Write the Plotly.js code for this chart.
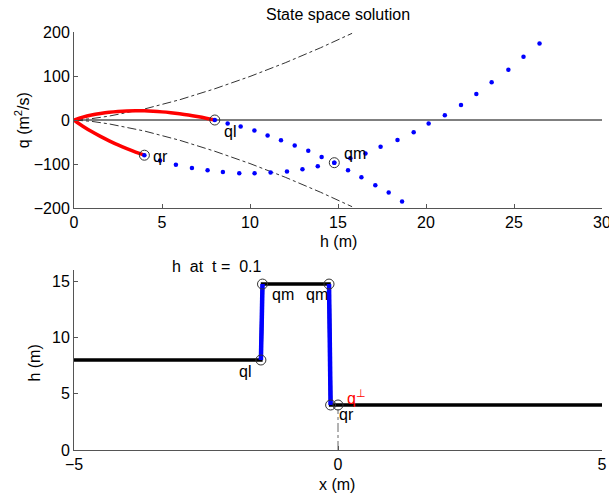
<!DOCTYPE html>
<html>
<head>
<meta charset="utf-8">
<script src="https://cdn.plot.ly/plotly-3.0.1.min.js"></script>
<style>html,body{margin:0;padding:0;background:#fff;}#chart{width:609px;height:498px;}</style>
</head>
<body>
<div id="chart"></div>
<script>
// ---- State space (top) ----
const hIntegralL = [0,0.5,1,1.5,2,2.5,3,3.5,4,4.5,5,5.5,6,6.5,7,7.5,8];
const qIntegralL = [0,6.6,11.5,15,17.7,19.5,20.6,21,20.8,19.9,18.5,16.6,14.2,11.4,8,4.2,0];
const hIntegralR = [0,0.25,0.5,1,1.5,2,2.5,3,3.5,4];
const qIntegralR = [0,-7.4,-14,-26.3,-37.3,-47.3,-56.6,-65,-72.8,-80];
const hSonic = [0,1,2,4,6,8,10,12,14,15.8];
const qSonicPos = [0,3.1,8.9,25,46,71,99,130,164,197];
const qSonicNeg = [0,-3.1,-8.9,-25,-46,-71,-99,-130,-164,-197];
const hHugL = [8,8.73,9.47,10.25,11.0,11.76,12.54,13.31,14.07,14.79,15.57,16.33,17.12,17.88,18.64];
const qHugL = [0,-8,-15,-24,-35,-46,-58,-70,-84,-97,-114,-130,-148,-165,-185];
const hHugR = [4,4.89,5.79,6.70,7.59,8.46,9.39,10.26,11.17,12.1,12.98,13.85,14.79,15.7,16.56,17.42,18.38,19.3,20.15,21.07,21.99,22.86,23.73,24.68,25.54,26.45];
const qHugR = [-80,-92,-101.5,-109,-114,-118,-121,-121,-119,-117,-112,-105,-97,-87,-76,-61,-45.5,-28,-8,11,34,59,86,114,144,174];
const hZeroLine = [0,30];
const qZeroLine = [0,0];
const stateNames = ['ql','qr','qm'];
const stateH = [8,4,14.79];
const stateQ = [0,-80,-97];
const stateLabelH = [8.88,4.9,15.95];
const stateLabelQ = [-25.7,-81.8,-77];

// ---- h at t = 0.1 (bottom) ----
const xProfile = [-5,-1.46,-1.43,-0.17,-0.14,5];
const hProfile = [8,8,14.75,14.75,4,4];
const xShock1 = [-1.46,-1.43];
const hShock1 = [8,14.75];
const xShock2 = [-0.17,-0.14];
const hShock2 = [14.75,4];
const xCircles = [-1.46,-1.43,-0.17,-0.14,0];
const hCircles = [8,14.75,14.75,4,4];
const xDashV = [0,0];
const hDashV = [0,3.6];
const profileLabels = ['ql','qm','qm','qr'];
const profileLabelX = [-1.76,-1.045,-0.394,0.157];
const profileLabelH = [6.96,13.8,13.8,3.14];

const FONT = 'Liberation Sans, Arial, sans-serif';
const AX = '#555555';

const traces = [
  {x:hZeroLine,y:qZeroLine,mode:'lines',line:{color:'#000',width:1},xaxis:'x',yaxis:'y',hoverinfo:'skip'},
  {x:hSonic,y:qSonicPos,mode:'lines',line:{color:'#333',width:1,dash:'dashdot'},xaxis:'x',yaxis:'y'},
  {x:hSonic,y:qSonicNeg,mode:'lines',line:{color:'#333',width:1,dash:'dashdot'},xaxis:'x',yaxis:'y'},
  {x:hIntegralL,y:qIntegralL,mode:'lines',line:{color:'#ff0000',width:3.5,shape:'spline'},xaxis:'x',yaxis:'y'},
  {x:hIntegralR,y:qIntegralR,mode:'lines',line:{color:'#ff0000',width:3.5,shape:'spline'},xaxis:'x',yaxis:'y'},
  {x:hHugL,y:qHugL,mode:'markers',marker:{color:'#0000ff',size:4.5},xaxis:'x',yaxis:'y'},
  {x:hHugR,y:qHugR,mode:'markers',marker:{color:'#0000ff',size:4.5},xaxis:'x',yaxis:'y'},
  {x:stateH,y:stateQ,mode:'markers',marker:{symbol:'circle-open',color:'#333',size:10,line:{width:1}},xaxis:'x',yaxis:'y'},

  {x:xDashV,y:hDashV,mode:'lines',line:{color:'#666',width:1,dash:'dashdot'},xaxis:'x2',yaxis:'y2'},
  {x:xProfile,y:hProfile,mode:'lines',line:{color:'#000',width:3.5},xaxis:'x2',yaxis:'y2'},
  {x:xShock1,y:hShock1,mode:'lines',line:{color:'#0000ff',width:4.5},xaxis:'x2',yaxis:'y2'},
  {x:xShock2,y:hShock2,mode:'lines',line:{color:'#0000ff',width:4.5},xaxis:'x2',yaxis:'y2'},
  {x:xCircles,y:hCircles,mode:'markers',marker:{symbol:'circle-open',color:'#333',size:10,line:{width:1}},xaxis:'x2',yaxis:'y2'}
];

const axisCommon = {
  showline:true, linecolor:AX, linewidth:1, mirror:false,
  ticks:'inside', ticklen:4, tickcolor:AX, tickwidth:1,
  showgrid:false, zeroline:false, ticklabeloverflow:'allow',
  tickfont:{family:FONT,size:16,color:'#000'}
};

const annotations = [];
stateNames.forEach((t,i)=>annotations.push({x:stateLabelH[i],y:stateLabelQ[i],xref:'x',yref:'y',text:t,showarrow:false,xanchor:'center',yanchor:'middle',font:{family:FONT,size:16,color:'#000'}}));
profileLabels.forEach((t,i)=>annotations.push({x:profileLabelX[i],y:profileLabelH[i],xref:'x2',yref:'y2',text:t,showarrow:false,xanchor:'center',yanchor:'middle',font:{family:FONT,size:16,color:'#000'}}));
annotations.push({x:0.25,y:4.7,xref:'x2',yref:'y2',text:'q<sup>⊥</sup>',showarrow:false,xanchor:'left',yanchor:'middle',xshift:-6,font:{family:FONT,size:16,color:'#ff0000'}});
annotations.push({x:0.5,y:0.5,xref:'paper',yref:'paper',text:'h (m)',showarrow:false,xanchor:'center',yanchor:'middle',font:{family:FONT,size:16,color:'#000'}});
annotations.push({x:-0.0985,y:0.789,xref:'paper',yref:'paper',text:'q (m<sup>2</sup>/s)',textangle:-90,showarrow:false,xanchor:'center',yanchor:'middle',font:{family:FONT,size:16,color:'#000'}});
annotations.push({x:0.27,y:0.4385,xref:'paper',yref:'paper',text:'h\u00a0 at\u00a0 t =\u00a0 0.1',showarrow:false,xanchor:'center',yanchor:'middle',font:{family:FONT,size:16,color:'#000'}});
annotations.push({x:-0.0739,y:0.209,xref:'paper',yref:'paper',text:'h (m)',textangle:-90,showarrow:false,xanchor:'center',yanchor:'middle',font:{family:FONT,size:16,color:'#000'}});
annotations.push({x:0.4975,y:-0.0837,xref:'paper',yref:'paper',text:'x (m)',showarrow:false,xanchor:'center',yanchor:'middle',font:{family:FONT,size:16,color:'#000'}});

const layout = {
  width:609, height:498,
  margin:{l:74,r:7,t:32,b:48},
  paper_bgcolor:'#fff', plot_bgcolor:'#fff',
  showlegend:false,
  title:{text:'State space solution',x:0.5,xref:'paper',xanchor:'center',y:1-14/498,yref:'container',yanchor:'middle',font:{family:FONT,size:16,color:'#000'}},
  xaxis:Object.assign({},axisCommon,{domain:[0,1],range:[0,30],tickvals:[0,5,10,15,20,25,30],anchor:'y'}),
  yaxis:Object.assign({},axisCommon,{domain:[0.5789,1],range:[-200,200],tickvals:[-200,-100,0,100,200],anchor:'x'}),
  xaxis2:Object.assign({},axisCommon,{domain:[0,1],range:[-5,5],tickvals:[-5,0,5],anchor:'y2'}),
  yaxis2:Object.assign({},axisCommon,{domain:[0,0.4306],range:[0,16],tickvals:[0,5,10,15],anchor:'x2'}),
  annotations:annotations
};

Plotly.newPlot('chart',traces,layout,{displayModeBar:false,staticPlot:true});
</script>
</body>
</html>
